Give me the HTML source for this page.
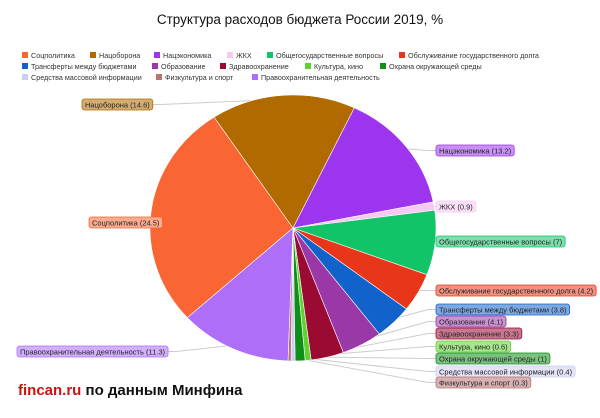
<!DOCTYPE html>
<html><head><meta charset="utf-8"><style>
body{margin:0;background:#fff;width:600px;height:413px;overflow:hidden;font-family:"Liberation Sans",sans-serif}
</style></head><body>
<svg id="s" width="600" height="413" xmlns="http://www.w3.org/2000/svg" font-family="Liberation Sans, sans-serif">
<text x="300" y="24" text-anchor="middle" font-size="13.5" fill="#111">Структура расходов бюджета России 2019, %</text>
<g id="legend" font-size="7.2" fill="#333"></g>
<g id="pie"></g>
<g id="lab" font-size="7.5"></g>
<text x="18" y="395" font-size="15" font-weight="bold"><tspan fill="#d01010">fincan.ru</tspan><tspan fill="#111"> по данным Минфина</tspan></text>
</svg>
<script>
var d=[["Соцполитика",24.5,"#fa6633"],["Нацоборона",14.6,"#b06a00"],["Нацэкономика",13.2,"#9d35ee"],["ЖКХ",0.9,"#f6c8f2"],["Общегосударственные вопросы",7,"#12c468"],["Обслуживание государственного долга",4.2,"#e8361a"],["Трансферты между бюджетами",3.8,"#1262cc"],["Образование",4.1,"#9b38a8"],["Здравоохранение",3.3,"#9a0a32"],["Культура, кино",0.6,"#5fd22f"],["Охрана окружающей среды",1,"#0f8f18"],["Средства массовой информации",0.4,"#cccdf2"],["Физкультура и спорт",0.3,"#b87373"],["Правоохранительная деятельность",11.3,"#ae6ef8"]];
var NS="http://www.w3.org/2000/svg";
function el(p,t,a,tx){var e=document.createElementNS(NS,t);for(var k in a)e.setAttribute(k,a[k]);if(tx)e.textContent=tx;document.getElementById(p).appendChild(e);return e;}
var lx=[[22,90,154,227,267,399],[22,152,220,305,380],[22,156,252]];var idx=0;
for(var r=0;r<3;r++)for(var c=0;c<lx[r].length;c++){var it=d[idx++];var y=58+r*11;el("legend","rect",{x:lx[r][c],y:y-6,width:6,height:6,fill:it[2]});el("legend","text",{x:lx[r][c]+9,y:y},it[0]);}
var cx=293,cy=228,RX=143,RY=133,tot=0;d.forEach(function(a){tot+=a[1]});
var ang=227.6;
function pt(a,f){var t=a*Math.PI/180;return [cx+RX*f*Math.sin(t),cy-RY*f*Math.cos(t)];}
var mids=[];
d.forEach(function(a){var sw=a[1]/tot*360;var p1=pt(ang,1),p2=pt(ang+sw,1);
el("pie","path",{d:"M"+cx+","+cy+"L"+p1[0]+","+p1[1]+"A"+RX+","+RY+" 0 "+(sw>180?1:0)+" 1 "+p2[0]+","+p2[1]+"Z",fill:a[2],stroke:"#fff","stroke-width":0.6});
mids.push(ang+sw/2);ang+=sw;});
var L=[[89,217,"r"],[82,99,"r"],[436,145],[436,201],[436,236],[436,285],[436,304],[436,316],[436,328],[436,341],[436,353],[436,366],[436,377],[17,346,"r"]];
function lighten(h,f){var n=parseInt(h.slice(1),16),r=n>>16,g=n>>8&255,b=n&255;return "rgb("+Math.round(r+(255-r)*f)+","+Math.round(g+(255-g)*f)+","+Math.round(b+(255-b)*f)+")";}
d.forEach(function(a,i){var txt=a[0]+" ("+a[1]+")";var l=L[i];
var t=el("lab","text",{x:l[0]+3,y:l[1]+8.5,fill:"#222"},txt);var w=t.getComputedTextLength()+6;
var box=el("lab","rect",{x:l[0],y:l[1],width:w,height:11,rx:2.5,fill:lighten(a[2],0.45),stroke:a[2],"stroke-width":0.8});
t.parentNode.insertBefore(box,t);
var m=pt(mids[i],0.97);var ex=(l[2]=="r")?l[0]+w:l[0];var ey=l[1]+5.5;
var ln=el("pie","polyline",{points:m[0]+","+m[1]+" "+(l[2]=="r"?ex+8:ex-8)+","+ey+" "+ex+","+ey,fill:"none",stroke:"#ccc","stroke-width":1});
document.getElementById("pie").insertBefore(ln,document.getElementById("pie").firstChild);});
</script>
</body></html>
